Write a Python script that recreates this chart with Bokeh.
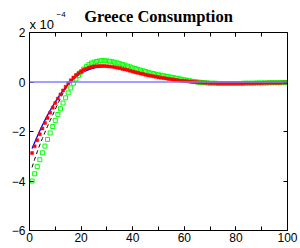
from bokeh.plotting import figure
from bokeh.embed import file_html
from bokeh.resources import INLINE
from bokeh.models import (Label, LinearAxis, SingleIntervalTicker, Span, Range1d,
                          CustomLabelingPolicy)

horizon = list(range(1, 101))

model = [
    -2.69, -2.44, -2.20, -1.97, -1.75, -1.54, -1.34, -1.15, -0.97, -0.80, -0.64, -0.49, -0.35, -0.22, -0.10, 0.01,
    0.11, 0.20, 0.28, 0.35, 0.41, 0.46, 0.50, 0.54, 0.57, 0.59, 0.61, 0.62, 0.62, 0.62, 0.62, 0.61,
    0.59, 0.57, 0.55, 0.53, 0.50, 0.47, 0.44, 0.41, 0.38, 0.36, 0.33, 0.31, 0.28, 0.26, 0.24, 0.22,
    0.20, 0.18, 0.16, 0.15, 0.13, 0.12, 0.10, 0.09, 0.07, 0.06, 0.05, 0.04, 0.03, 0.02, 0.01, 0.00,
    -0.01, -0.01, -0.02, -0.02, -0.03, -0.03, -0.03, -0.04, -0.04, -0.04, -0.04, -0.04, -0.04, -0.04, -0.04, -0.04,
    -0.04, -0.04, -0.04, -0.04, -0.04, -0.03, -0.03, -0.03, -0.03, -0.03, -0.03, -0.03, -0.03, -0.02, -0.02, -0.02,
    -0.02, -0.02, -0.02, -0.02,
]

alt_model = [
    -3.45, -3.12, -2.82, -2.54, -2.28, -2.03, -1.79, -1.56, -1.33, -1.10, -0.88, -0.66, -0.45, -0.27, -0.12, 0.01,
    0.11, 0.20, 0.28, 0.35, 0.41, 0.46, 0.50, 0.54, 0.57, 0.59, 0.61, 0.62, 0.62, 0.62, 0.62, 0.61,
    0.59, 0.57, 0.55, 0.53, 0.50, 0.47, 0.44, 0.41, 0.38, 0.36, 0.33, 0.31, 0.28, 0.26, 0.24, 0.22,
    0.20, 0.18, 0.16, 0.15, 0.13, 0.12, 0.10, 0.09, 0.07, 0.06, 0.05, 0.04, 0.03, 0.02, 0.01, 0.00,
    -0.01, -0.01, -0.02, -0.02, -0.03, -0.03, -0.03, -0.04, -0.04, -0.04, -0.04, -0.04, -0.04, -0.04, -0.04, -0.04,
    -0.04, -0.04, -0.04, -0.04, -0.04, -0.03, -0.03, -0.03, -0.03, -0.03, -0.03, -0.03, -0.03, -0.02, -0.02, -0.02,
    -0.02, -0.02, -0.02, -0.02,
]

red_series = [
    -2.87, -2.60, -2.35, -2.11, -1.88, -1.66, -1.45, -1.24, -1.04, -0.85, -0.67, -0.50, -0.34, -0.19, -0.05, 0.07,
    0.18, 0.28, 0.36, 0.43, 0.49, 0.54, 0.58, 0.61, 0.63, 0.64, 0.65, 0.65, 0.65, 0.64, 0.63, 0.62,
    0.60, 0.58, 0.56, 0.53, 0.51, 0.48, 0.45, 0.42, 0.39, 0.37, 0.34, 0.32, 0.29, 0.27, 0.25, 0.23,
    0.21, 0.19, 0.17, 0.16, 0.14, 0.12, 0.11, 0.09, 0.08, 0.06, 0.05, 0.04, 0.03, 0.02, 0.01, 0.00,
    -0.01, -0.02, -0.02, -0.03, -0.03, -0.04, -0.04, -0.04, -0.05, -0.05, -0.05, -0.05, -0.05, -0.05, -0.05, -0.05,
    -0.05, -0.05, -0.05, -0.04, -0.04, -0.04, -0.04, -0.04, -0.04, -0.04, -0.03, -0.03, -0.03, -0.03, -0.03, -0.03,
    -0.03, -0.02, -0.02, -0.02,
]

green_series = [
    -4.00, -3.71, -3.42, -3.14, -2.86, -2.59, -2.32, -2.06, -1.80, -1.55, -1.31, -1.08, -0.85, -0.64, -0.44, -0.24,
    -0.05, 0.12, 0.27, 0.40, 0.52, 0.62, 0.70, 0.76, 0.80, 0.83, 0.85, 0.86, 0.86, 0.85, 0.84, 0.82,
    0.80, 0.77, 0.74, 0.71, 0.68, 0.64, 0.61, 0.57, 0.54, 0.51, 0.48, 0.45, 0.42, 0.39, 0.36, 0.34,
    0.31, 0.29, 0.27, 0.25, 0.23, 0.21, 0.19, 0.17, 0.15, 0.13, 0.11, 0.09, 0.07, 0.05, 0.03, 0.02,
    0.00, -0.01, -0.02, -0.03, -0.04, -0.05, -0.05, -0.05, -0.06, -0.06, -0.06, -0.06, -0.06, -0.06, -0.06, -0.06,
    -0.06, -0.06, -0.05, -0.05, -0.05, -0.05, -0.05, -0.04, -0.04, -0.04, -0.04, -0.04, -0.03, -0.03, -0.03, -0.03,
    -0.03, -0.03, -0.02, -0.02,
]

x_start, x_end = 0, 100
y_bottom, y_top = -6, 2
y_tick_labels = {-6: "\u22126", -4: "\u22124", -2: "\u22122", 0: "0", 2: "2"}
title_text = "Greece Consumption"
scale_text = "x 10"
scale_exp = "\u22124"

# layout (pixels); the page places the figure at its top-left corner
FRAME_W = 258
BOX_H = 198          # height of the axes box
HEAD = 32            # header space inside the frame, above the box
FRAME_H = BOX_H + HEAD
px_per_unit = BOX_H / (y_top - y_bottom)
y_range_end = y_top + HEAD / px_per_unit

p = figure(
    frame_width=FRAME_W, frame_height=FRAME_H,
    min_border_left=29, min_border_right=13, min_border_top=0, min_border_bottom=18,
    x_range=Range1d(x_start, x_end), y_range=Range1d(y_bottom, y_range_end),
    output_backend="svg", toolbar_location=None,
    x_axis_location=None, y_axis_location=None,
)
p.xgrid.visible = False
p.ygrid.visible = False
p.outline_line_color = None
p.background_fill_color = "white"
p.border_fill_color = "white"

FONT = "Liberation Sans"
no_labels = CustomLabelingPolicy(code="return new Set()")


def style_axis(ax, show_labels, standoff):
    ax.axis_line_color = "black"
    ax.axis_line_width = 1
    ax.major_tick_in = 4
    ax.major_tick_out = 0
    ax.minor_tick_in = 4
    ax.minor_tick_out = 0
    ax.major_tick_line_color = "black"
    ax.minor_tick_line_color = "black"
    ax.major_label_text_font = FONT
    ax.major_label_text_color = "black"
    ax.major_label_text_font_size = "12px"
    if show_labels:
        ax.major_label_standoff = standoff
    else:
        ax.major_label_policy = no_labels
        ax.major_label_standoff = 0


# bottom axis
ax_b = LinearAxis(ticker=SingleIntervalTicker(interval=20, num_minor_ticks=2))
style_axis(ax_b, True, 2)
p.add_layout(ax_b, "below")

# top edge of the box, drawn at the top of the data range
ax_t = LinearAxis(ticker=SingleIntervalTicker(interval=20, num_minor_ticks=2),
                  fixed_location=y_top)
style_axis(ax_t, False, 0)
p.add_layout(ax_t, "above")

for loc in ["left", "right"]:
    ax = LinearAxis(ticker=SingleIntervalTicker(interval=2, num_minor_ticks=0),
                    bounds=(y_bottom, y_top))
    style_axis(ax, loc == "left", 4)
    if loc == "left":
        ax.major_label_overrides = y_tick_labels
    ax.minor_tick_in = 0
    p.add_layout(ax, loc)

p.line(horizon, alt_model, line_color="black", line_width=1, line_dash="4 3")
p.line(horizon, model, line_color="#0000ff", line_width=1.3)
p.scatter(horizon, green_series, marker="square", size=4, fill_color=None,
          line_color="#00ff00", line_width=1)
p.scatter(horizon, red_series, marker="square", size=3, fill_color="#ff0000",
          line_color="#ff0000", line_width=0.5)

p.add_layout(Span(location=0, dimension="width", line_color="#7f7fff", line_width=1.5))

p.add_layout(Label(x=(x_start + x_end) / 2, y=y_top, y_offset=16.5, text=title_text,
                   text_align="center", text_baseline="alphabetic",
                   text_font="Liberation Serif", text_font_style="bold",
                   text_font_size="16.5px", text_color="black"))
p.add_layout(Label(x=x_start, y=y_top, y_offset=8, text=scale_text, text_align="left",
                   text_baseline="alphabetic", text_font=FONT,
                   text_font_size="13px", text_color="black"))
p.add_layout(Label(x=x_start, y=y_top, x_offset=27, y_offset=18, text=scale_exp,
                   text_align="left", text_baseline="alphabetic", text_font=FONT,
                   text_font_size="8px", text_color="black"))

open("out.html", "w").write(file_html(p, INLINE))
